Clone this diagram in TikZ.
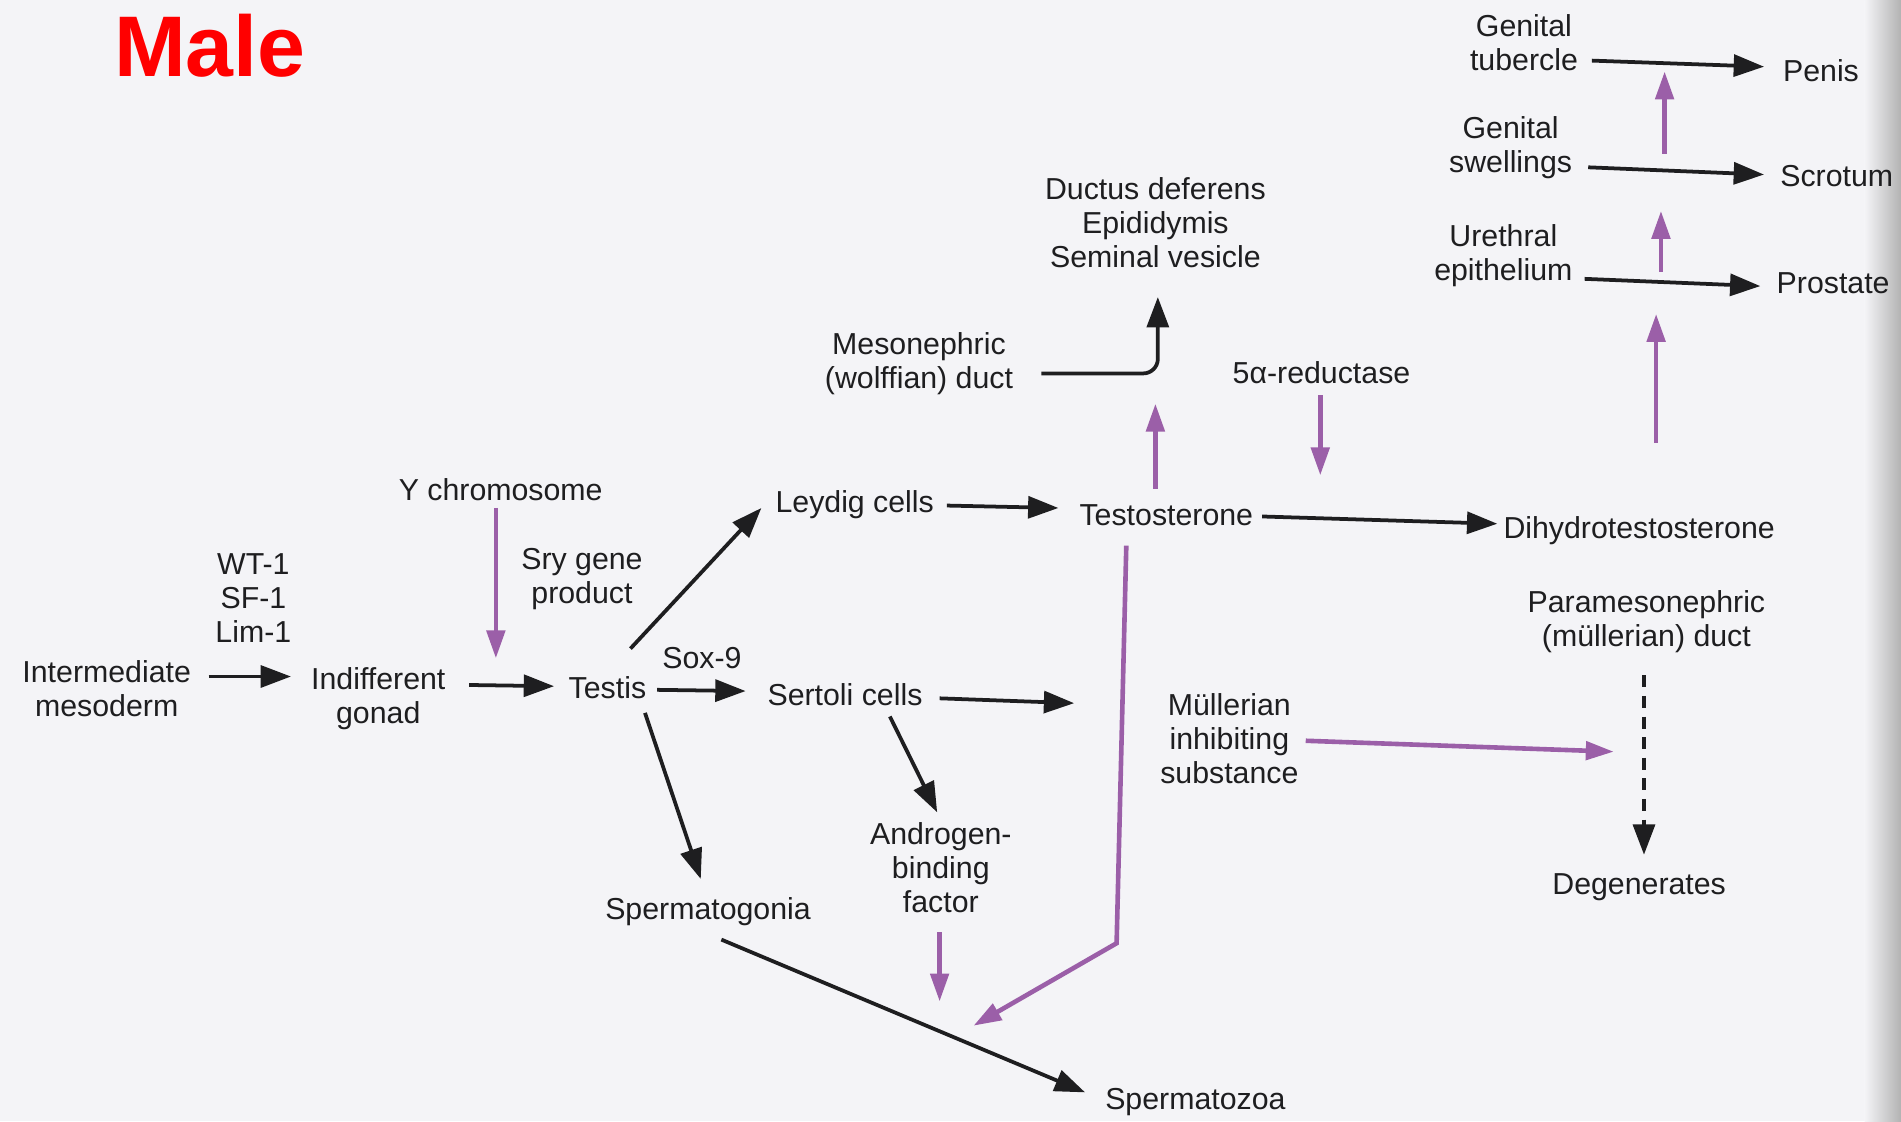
\documentclass[tikz,border=0pt]{standalone}
\usepackage{fontspec}
\setmainfont{Liberation Sans}
\usetikzlibrary{arrows.meta}
\definecolor{bgc}{RGB}{244,244,247}
\definecolor{purp}{RGB}{155,95,168}
\definecolor{ink}{RGB}{30,30,32}
\begin{document}
\begin{tikzpicture}[x=1pt,y=-1pt,
  lbl/.style={font=\fontsize{25}{28}\selectfont, text=ink, align=center, inner sep=0pt},
  arr/.style={draw=ink, line width=3.1pt, -{Triangle[length=25pt,width=18pt]}},
  parr/.style={draw=purp, line width=3.8pt, -{Triangle[length=23pt,width=15pt]}}]
\fill[bgc] (0,0) rectangle (1568,925);
\shade[left color=bgc, right color=black!30] (1538,0) rectangle (1568,925);
\useasboundingbox (0,0) rectangle (1568,925);

% title
\node[font=\fontsize{71}{71}\selectfont\bfseries, text=red, inner sep=0pt] (male) at (173,38) {Male};

% nodes
\node[lbl] (gt) at (1257,35) {Genital\\tubercle};
\node[lbl] (penis) at (1502,58) {Penis};
\node[lbl] (gs) at (1246,122) {Genital\\swellings};
\node[lbl] (scrotum) at (1515,145) {Scrotum};
\node[lbl] (ue) at (1240,211) {Urethral\\epithelium};
\node[lbl] (prostate) at (1512,234) {Prostate};
\node[lbl] (dds) at (953,184) {Ductus deferens\\Epididymis\\Seminal vesicle};
\node[lbl] (meso) at (758,300) {Mesonephric\\(wolffian) duct};
\node[lbl] (red) at (1090,307) {5α-reductase};
\node[lbl] (ychr) at (413,404) {Y chromosome};
\node[lbl] (sry) at (480,478) {Sry gene\\product};
\node[lbl] (wt) at (209,493) {WT-1\\SF-1\\Lim-1};
\node[lbl] (im) at (88,568) {Intermediate\\mesoderm};
\node[lbl] (ig) at (312,576) {Indifferent\\gonad};
\node[lbl] (testis) at (501,567) {Testis};
\node[lbl] (sox) at (579,543) {Sox-9};
\node[lbl] (leydig) at (705,416) {Leydig cells};
\node[lbl] (testo) at (962,425) {Testosterone};
\node[lbl] (dht) at (1352,438) {Dihydrotestosterone};
\node[lbl] (sertoli) at (697,573) {Sertoli cells};
\node[lbl] (pmd) at (1358,513) {Paramesonephric\\(müllerian) duct};
\node[lbl] (mis) at (1014,609) {Müllerian\\inhibiting\\substance};
\node[lbl] (abf) at (776,716) {Androgen-\\binding\\factor};
\node[lbl] (spg) at (584,752) {Spermatogonia};
\node[lbl] (deg) at (1352,732) {Degenerates};
\node[lbl] (spz) at (986,909) {Spermatozoa};

% black arrows
\draw[arr] ([shift={(56,15)}]gt.center) -- ([shift={(-47,-3)}]penis.center);
\draw[arr] ([shift={(64,16)}]gs.center) -- ([shift={(-60,-1)}]scrotum.center);
\draw[arr] ([shift={(67,19)}]ue.center) -- ([shift={(-60,2)}]prostate.center);
\draw[arr, rounded corners=12pt] ([shift={(101,8)}]meso.center) -| ([shift={(2,61)}]dds.center);
\draw[arr] ([shift={(76,1)}]leydig.center) -- ([shift={(-89,-6)}]testo.center);
\draw[arr] ([shift={(79,1)}]testo.center) -- ([shift={(-117,-6)}]dht.center);
\draw[arr] ([shift={(84,-10)}]im.center) -- ([shift={(-72,-18)}]ig.center);
\draw[arr] ([shift={(75,-11)}]ig.center) -- ([shift={(-44,-1)}]testis.center);
\draw[arr] ([shift={(41,2)}]testis.center) -- ([shift={(-82,-3)}]sertoli.center);
\draw[arr] ([shift={(19,-32)}]testis.center) -- ([shift={(-77,3)}]leydig.center);
\draw[arr] ([shift={(31,21)}]testis.center) -- ([shift={(-6,-27)}]spg.center);
\draw[arr] ([shift={(78,3)}]sertoli.center) -- ([shift={(-128,-29)}]mis.center);
\draw[arr] ([shift={(37,18)}]sertoli.center) -- ([shift={(-3,-46)}]abf.center);
\draw[arr] ([shift={(11,23)}]spg.center) -- ([shift={(-91,-8)}]spz.center);
\draw[arr, dash pattern=on 10pt off 7pt] ([shift={(-2,44)}]pmd.center) -- ([shift={(4,-27)}]deg.center);

% purple arrows
\draw[parr] ([shift={(-4,15)}]ychr.center) -- ([shift={(97,-33)}]ig.center);
\draw[parr] ([shift={(-9,-22)}]testo.center) -- ([shift={(0,149)}]dds.center);
\draw[parr] ([shift={(-1,19)}]red.center) -- ([shift={(-1,85)}]red.center);
\draw[parr] ([shift={(14,-73)}]dht.center) -- ([shift={(-146,25)}]prostate.center);
\draw[parr] ([shift={(130,13)}]ue.center) -- ([shift={(-145,29)}]scrotum.center);
\draw[parr] ([shift={(127,5)}]gs.center) -- ([shift={(-129,1)}]penis.center);
\draw[parr] ([shift={(-33,25)}]testo.center) -- ([shift={(-65,-131)}]spz.center) -- ([shift={(-183,-63)}]spz.center);
\draw[parr] ([shift={(-1,53)}]abf.center) -- ([shift={(-1,110)}]abf.center);
\draw[parr] ([shift={(63,2)}]mis.center) -- ([shift={(-27,107)}]pmd.center);
\end{tikzpicture}
\end{document}
